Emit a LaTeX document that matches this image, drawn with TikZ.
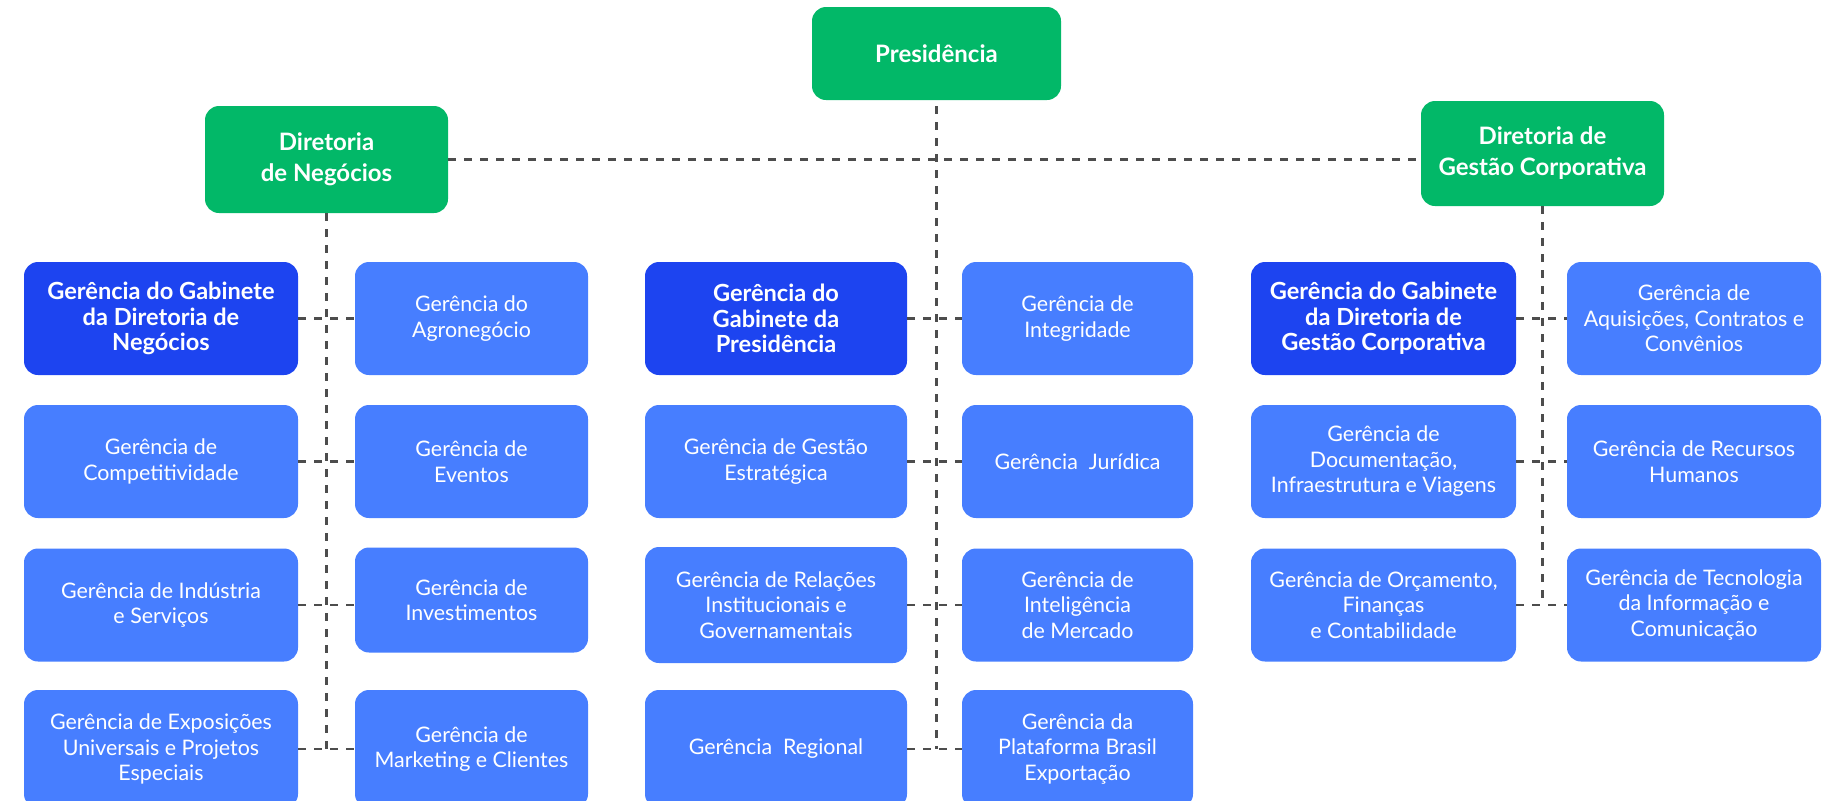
\documentclass[tikz,border=0pt]{standalone}
\usepackage{fontspec}
\setmainfont{Lato}
\definecolor{verde}{HTML}{02B868}
\definecolor{azulesc}{HTML}{1D44F0}
\definecolor{azul}{HTML}{477EFF}
\definecolor{traco}{HTML}{4D4D4D}
\begin{document}
\begin{tikzpicture}[x=.5pt,y=-.5pt,
  caixa/.style={rounded corners=7pt,text=white,align=center,inner sep=0pt,minimum height=56.5pt},
  dir/.style={caixa,fill=verde,font=\bfseries\fontsize{12}{15.5}\selectfont},
  gab/.style={caixa,fill=azulesc,font=\bfseries\fontsize{11.8}{12.75}\selectfont},
  ger/.style={caixa,fill=azul,font=\fontsize{10.7}{12.75}\selectfont},
  liga/.style={draw=traco,line width=1.25pt,dash pattern=on 4pt off 4pt}]
  \useasboundingbox (0,0) rectangle (1837,800);
  % diretorias
  \node[dir,minimum width=124.5pt,minimum height=46.5pt] (pres) at (936.5,53.5) {Presidência};
  \node[dir,minimum width=121.5pt,minimum height=53.5pt] (dn) at (326.5,159.5) {Diretoria\\de Negócios};
  \node[dir,minimum width=121.5pt,minimum height=52.5pt] (dg) at (1542.5,153.5) {Diretoria de\\Gestão Corporativa};
  % negocios
  \node[gab,minimum width=137pt] (g11) at (161,318.5) {Gerência do Gabinete\\da Diretoria de\\Negócios};
  \node[ger,minimum width=137pt] (g12) at (161,461.5) {Gerência de\\Competitividade};
  \node[ger,minimum width=137pt] (g13) at (161,605) {Gerência de Indústria\\e Serviços};
  \node[ger,minimum width=137pt,minimum height=59pt] (g14) at (161,749) {Gerência de Exposições\\Universais e Projetos\\Especiais};
  \node[ger,minimum width=116.5pt] (g21) at (471.5,318.5) {Gerência do\\Agronegócio};
  \node[ger,minimum width=116.5pt] (g22) at (471.5,461.5) {Gerência de\\Eventos};
  \node[ger,minimum width=116.5pt,minimum height=52.5pt] (g23) at (471.5,600) {Gerência de\\Investimentos};
  \node[ger,minimum width=116.5pt,minimum height=59pt] (g24) at (471.5,749) {Gerência de\\Marketing e Clientes};
  % presidencia
  \node[gab,minimum width=131pt] (g31) at (776,318.5) {Gerência do\\Gabinete da\\Presidência};
  \node[ger,minimum width=131pt] (g32) at (776,461.5) {Gerência de Gestão\\Estratégica};
  \node[ger,minimum width=131pt,minimum height=58pt] (g33) at (776,605) {Gerência de Relações\\Institucionais e\\Governamentais};
  \node[ger,minimum width=131pt,minimum height=59pt] (g34) at (776,749) {Gerência\ \ Regional};
  \node[ger,minimum width=115.5pt] (g41) at (1077.5,318.5) {Gerência de\\Integridade};
  \node[ger,minimum width=115.5pt] (g42) at (1077.5,461.5) {Gerência\ \ Jurídica};
  \node[ger,minimum width=115.5pt] (g43) at (1077.5,605) {Gerência de\\Inteligência\\de Mercado};
  \node[ger,minimum width=115.5pt,minimum height=59pt] (g44) at (1077.5,749) {Gerência da\\Plataforma Brasil\\Exportação};
  % gestao corporativa
  \node[gab,minimum width=132.5pt] (g51) at (1383.5,318.5) {Gerência do Gabinete\\da Diretoria de\\Gestão Corporativa};
  \node[ger,minimum width=132.5pt] (g52) at (1383.5,461.5) {Gerência de\\Documentação,\\Infraestrutura e Viagens};
  \node[ger,minimum width=132.5pt] (g53) at (1383.5,605) {Gerência de Orçamento,\\Finanças\\e Contabilidade};
  \node[ger,minimum width=127pt] (g61) at (1694,318.5) {Gerência de\\Aquisições, Contratos e\\Convênios};
  \node[ger,minimum width=127pt] (g62) at (1694,461.5) {Gerência de Recursos\\Humanos};
  \node[ger,minimum width=127pt] (g63) at (1694,605) {Gerência de Tecnologia\\da Informação e\\Comunicação};
  % ligacoes
  \draw[liga] (dn.east) -- (dn.east -| dg.west);
  \draw[liga] (dn.south) -- (dn.south |- g24.west);
  \draw[liga,shorten <=3pt] (pres.south) -- (pres.south |- g44.west);
  \draw[liga] (dg.south) -- (dg.south |- g63.west);
  \foreach \i in {1,...,4} {
    \draw[liga] (g1\i.east) -- (g1\i.east -| g2\i.west);
    \draw[liga] (g3\i.east) -- (g4\i.west);
  }
  \foreach \i in {1,2,3}
    \draw[liga] (g5\i.east) -- (g6\i.west);
\end{tikzpicture}
\end{document}
